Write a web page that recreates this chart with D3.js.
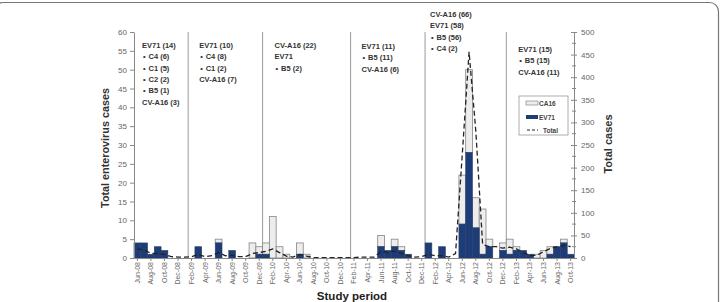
<!DOCTYPE html>
<html>
<head>
<meta charset="utf-8">
<script src="https://cdn.jsdelivr.net/npm/d3@7"></script>
<style>
  body { margin: 0; background: #fff; }
  svg { display: block; font-family: "Liberation Sans", Arial, sans-serif; }
</style>
</head>
<body>
<svg id="chart"></svg>
<script>
const width = 720;
const height = 302;

// months Jun-08 .. Oct-13
const months = ["Jun-08","Jul-08","Aug-08","Sep-08","Oct-08","Nov-08","Dec-08",
  "Jan-09","Feb-09","Mar-09","Apr-09","May-09","Jun-09","Jul-09","Aug-09","Sep-09","Oct-09","Nov-09","Dec-09",
  "Jan-10","Feb-10","Mar-10","Apr-10","May-10","Jun-10","Jul-10","Aug-10","Sep-10","Oct-10","Nov-10","Dec-10",
  "Jan-11","Feb-11","Mar-11","Apr-11","May-11","Jun-11","Jul-11","Aug-11","Sep-11","Oct-11","Nov-11","Dec-11",
  "Jan-12","Feb-12","Mar-12","Apr-12","May-12","Jun-12","Jul-12","Aug-12","Sep-12","Oct-12","Nov-12","Dec-12",
  "Jan-13","Feb-13","Mar-13","Apr-13","May-13","Jun-13","Jul-13","Aug-13","Sep-13","Oct-13"];

const ev71 = [4,4,1,3,2,0,0,
  0,0,3,0,0,4,0,2,0,0,0,1,
  1,0,0,0,0,1,0,0,0,0,0,0,
  0,0,0,0,0,3,2,3,2,1,0,0,
  4,0,3,0,0,9,28,8,1,3,0,2,
  1,2,2,1,0,0,1,3,4,1];

const ca16 = [0,0,0,0,0,0,0,
  0,0,0,0,0,1,0,0,0,0,4,2,
  3,11,3,1,0,3,1,0,0,0,0,0,
  0,0,0,0,0,3,0,2,1,0,0,0,
  0,0,0,0,0,13,22,8,12,2,0,2,
  4,1,0,0,1,2,2,0,1,0];

// total cases (right axis)
const totalCases = [20,18,10,10,8,3,2,
  2,3,8,3,5,12,5,6,3,3,10,12,
  15,20,12,4,2,8,4,1,1,1,1,1,
  1,1,2,2,2,15,12,15,10,5,2,3,
  8,5,5,2,10,230,456,280,30,25,25,22,
  24,20,12,6,6,14,21,25,28,25];

const seasonStarts = ["Feb-09","Jan-10","Feb-11","Jan-12","Jan-13"];

const seasonLabels = [
  ["EV71 (14)", "• C4 (6)", "• C1 (5)", "• C2 (2)", "• B5 (1)", "CV-A16 (3)"],
  ["EV71 (10)", "• C4 (8)", "• C1 (2)", "CV-A16 (7)"],
  ["CV-A16 (22)", "EV71", "• B5 (2)"],
  ["EV71 (11)", "• B5 (11)", "CV-A16 (6)"],
  ["CV-A16 (66)", "EV71 (58)", "• B5 (56)", "• C4 (2)"],
  ["EV71 (15)", "• B5 (15)", "CV-A16 (11)"]
];
const labelStarts = ["Jun-08","Feb-09","Jan-10","Feb-11","Jan-12","Jan-13"];

const navy = "#1d3c78";

const svg = d3.select("#chart").attr("width", width).attr("height", height);

// outer rounded frame (left and bottom edges fall outside the picture)
svg.append("rect")
   .attr("x", -6).attr("y", 2.5).attr("width", 724.5).attr("height", 330)
   .attr("rx", 9)
   .attr("fill", "none").attr("stroke", "#777").attr("stroke-width", 1.2);

const x = d3.scaleBand().domain(months).range([134, 574]).padding(0);
const yL = d3.scaleLinear().domain([0, 60]).range([258, 32]);
const yR = d3.scaleLinear().domain([0, 500]).range([258, 32]);

// season separators
svg.append("g").selectAll("line")
   .data(seasonStarts).enter().append("line")
   .attr("x1", d => x(d)).attr("x2", d => x(d))
   .attr("y1", yL(60)).attr("y2", yL(0))
   .attr("stroke", "#9a9a9a").attr("stroke-width", 1);

// bars: EV71 at bottom, CA16 stacked on top
const rows = months.map((m, i) => ({month: m, ev: ev71[i], ca: ca16[i], total: totalCases[i]}));

svg.append("g").selectAll("rect")
   .data(rows.filter(d => d.ca > 0)).enter().append("rect")
   .attr("x", d => x(d.month)).attr("width", x.bandwidth())
   .attr("y", d => yL(d.ev + d.ca))
   .attr("height", d => yL(d.ev) - yL(d.ev + d.ca))
   .attr("fill", "#ededed").attr("stroke", "#858585").attr("stroke-width", 0.8);

svg.append("g").selectAll("rect")
   .data(rows.filter(d => d.ev > 0)).enter().append("rect")
   .attr("x", d => x(d.month)).attr("width", x.bandwidth())
   .attr("y", d => yL(d.ev))
   .attr("height", d => yL(0) - yL(d.ev))
   .attr("fill", navy).attr("stroke", "#2a3f66").attr("stroke-width", 0.6);

// total line (dashed, right axis)
const line = d3.line()
   .x(d => x(d.month) + x.bandwidth() / 2)
   .y(d => yR(d.total));

svg.append("path")
   .datum(rows)
   .attr("d", line)
   .attr("fill", "none").attr("stroke", "#222").attr("stroke-width", 1.3)
   .attr("stroke-dasharray", "5,3");

// axes
const leftAxis = svg.append("g")
   .attr("transform", "translate(134,0)")
   .call(d3.axisLeft(yL).tickValues(d3.range(0, 61, 5)).tickSize(4).tickSizeOuter(0).tickPadding(3));

const rightAxis = svg.append("g")
   .attr("transform", "translate(574,0)")
   .call(d3.axisRight(yR).tickValues(d3.range(0, 501, 50)).tickSize(3).tickSizeOuter(0).tickPadding(4));
rightAxis.selectAll(".tick line").attr("x1", -3);
rightAxis.append("g").selectAll("line")
   .data(d3.range(25, 500, 50)).enter().append("line")
   .attr("x1", -2).attr("x2", 2)
   .attr("y1", d => yR(d)).attr("y2", d => yR(d))
   .attr("stroke", "#888");

const bottomAxis = svg.append("g")
   .attr("transform", "translate(0,258)")
   .call(d3.axisBottom(x).tickValues(months.filter((d, i) => i % 2 === 0)).tickSize(3).tickSizeOuter(0));
bottomAxis.selectAll("text")
   .attr("transform", "rotate(-90)")
   .attr("x", -4).attr("y", 0).attr("dy", "0.35em")
   .style("text-anchor", "end")
   .style("font-size", "7px");

[leftAxis, rightAxis, bottomAxis].forEach(a => {
  a.select(".domain").attr("stroke", "#888");
  a.selectAll(".tick line").attr("stroke", "#888");
  a.selectAll("text").attr("fill", "#666").style("font-family", "'Liberation Sans', Arial, sans-serif");
});
leftAxis.selectAll("text").style("font-size", "8px");
rightAxis.selectAll("text").style("font-size", "8px");

// axis titles
svg.append("text")
   .attr("transform", "translate(109,148) rotate(-90)")
   .attr("text-anchor", "middle")
   .style("font-size", "10.8px").style("font-weight", "bold").attr("fill", "#333")
   .text("Total enterovirus cases");

svg.append("text")
   .attr("transform", "translate(612,144) rotate(-90)")
   .attr("text-anchor", "middle")
   .style("font-size", "11px").style("font-weight", "bold").attr("fill", "#333")
   .text("Total cases");

svg.append("text")
   .attr("x", 352).attr("y", 300)
   .attr("text-anchor", "middle")
   .style("font-size", "11.5px").style("font-weight", "bold").attr("fill", "#222")
   .text("Study period");

// season annotations
const labelPlace = [
  {dx: 8, top: 48}, {dx: 11, top: 48}, {dx: 12, top: 48},
  {dx: 11, top: 49}, {dx: 5, top: 17}, {dx: 12, top: 52}
];
seasonLabels.forEach((lines, s) => {
  const x0 = x(labelStarts[s]) + labelPlace[s].dx;
  const g = svg.append("g")
     .style("font-size", "7.5px").style("font-weight", "bold").attr("fill", "#333");
  lines.forEach((t, j) => {
    const yy = labelPlace[s].top + j * 11.3;
    if (t.startsWith("• ")) {
      g.append("text").attr("x", x0 + 1).attr("y", yy).text("•");
      g.append("text").attr("x", x0 + 6.5).attr("y", yy).text(t.slice(2));
    } else {
      g.append("text").attr("x", x0).attr("y", yy).text(t);
    }
  });
});

// legend
const lg = svg.append("g");
lg.append("rect")
  .attr("x", 519).attr("y", 96).attr("width", 49).attr("height", 39)
  .attr("fill", "#fff").attr("stroke", "#999").attr("stroke-width", 0.8);
lg.append("rect")
  .attr("x", 526).attr("y", 101).attr("width", 12).attr("height", 4)
  .attr("fill", "#ededed").attr("stroke", "#777").attr("stroke-width", 0.6);
lg.append("rect")
  .attr("x", 526).attr("y", 115).attr("width", 12).attr("height", 4)
  .attr("fill", navy);
lg.append("line")
  .attr("x1", 527).attr("x2", 538).attr("y1", 130).attr("y2", 130)
  .attr("stroke", "#222").attr("stroke-width", 1).attr("stroke-dasharray", "3,2");
lg.selectAll("text.lab")
  .data([["CA16", 539, 105.5], ["EV71", 539, 119.5], ["Total", 543, 132.5]])
  .enter().append("text")
  .attr("x", d => d[1]).attr("y", d => d[2])
  .style("font-size", "6.5px").style("font-weight", "bold").attr("fill", "#444")
  .text(d => d[0]);
</script>
</body>
</html>
